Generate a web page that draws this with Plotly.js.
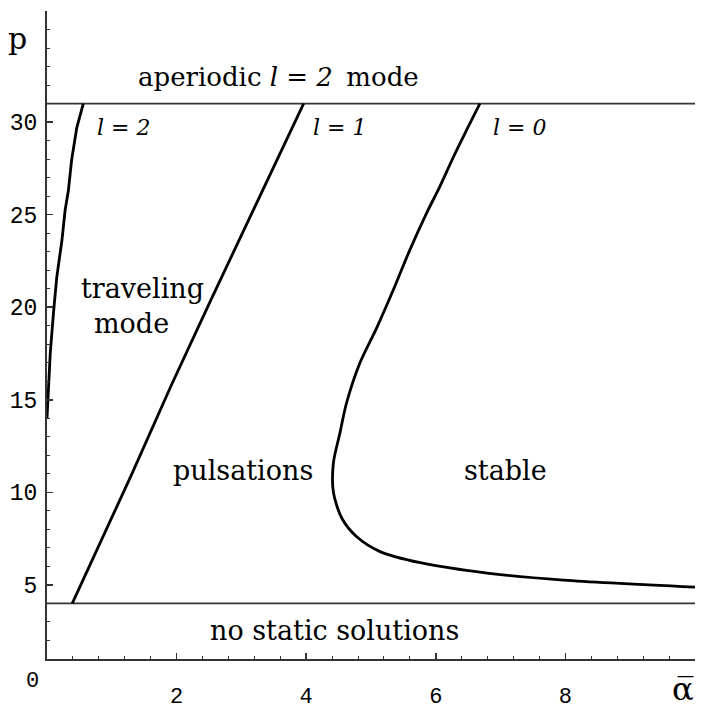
<!DOCTYPE html>
<html>
<head>
<meta charset="utf-8">
<script src="https://cdn.plot.ly/plotly-3.0.1.min.js"></script>
<style>html,body{margin:0;padding:0;background:#fff;}#chart{width:707px;height:709px;}</style>
</head>
<body>
<div id="chart"></div>
<script>
// Boundary curves: alpha-bar (x) vs p (y)
var l2Alpha = [0, 0.02, 0.05, 0.10, 0.15, 0.23, 0.28, 0.33, 0.38, 0.46, 0.56];
var l2P     = [14.0, 15.5, 17.5, 19.7, 21.6, 23.6, 25.25, 26.3, 27.95, 29.7, 31];

var l1Alpha = [0.39, 1.31, 1.92, 2.53, 3.96];
var l1P     = [4, 11.0, 15.8, 20.4, 31];

var l0Alpha = [10, 7.97, 6.79, 5.76, 5.14, 4.78, 4.55, 4.42, 4.42, 4.52, 4.62, 4.83, 5.09, 5.34, 5.60, 5.86, 6.06, 6.27, 6.48, 6.68];
var l0P     = [4.88, 5.26, 5.64, 6.2, 6.8, 7.6, 8.6, 10.0, 11.6, 13.2, 14.8, 17.0, 18.9, 20.9, 23.1, 25.1, 26.5, 28.1, 29.6, 31];

// Horizontal limits
var limitAlpha = [0, 10];
var upperP = [31, 31];
var lowerP = [4, 4];

// Ticks
var xTickVals = [2, 4, 6, 8, 10];
var xTickText = ['2', '4', '6', '8', ''];
var yTickVals = [5, 10, 15, 20, 25, 30];
var yTickText = ['5', '10', '15', '20', '25', '30'];

var curveLine = {color: '#000', width: 2.8};
var limitLine = {color: '#333', width: 1.8};

var traces = [
  {x: limitAlpha, y: upperP, mode: 'lines', line: limitLine, hoverinfo: 'skip'},
  {x: limitAlpha, y: lowerP, mode: 'lines', line: limitLine, hoverinfo: 'skip'},
  {x: l2Alpha, y: l2P, mode: 'lines', line: curveLine},
  {x: l1Alpha, y: l1P, mode: 'lines', line: curveLine},
  {x: l0Alpha, y: l0P, mode: 'lines', line: Object.assign({shape: 'spline', smoothing: 0.8}, curveLine)}
];

var serif = 'DejaVu Serif, serif';
var mono = 'Liberation Mono, monospace';

function ann(x, y, text, size, opts) {
  return Object.assign({x: x, y: y, xref: 'x', yref: 'y', text: text, showarrow: false,
    font: {family: serif, size: size, color: '#000'}}, opts || {});
}
function pann(fx, fy, text, font) {
  return {x: fx, y: fy, xref: 'paper', yref: 'paper', text: text, showarrow: false,
    xanchor: 'center', yanchor: 'middle', font: font};
}

var annotations = [
  ann(3.57, 32.45, 'aperiodic <i>l = 2</i> \u2009mode', 26),
  ann(0.74, 29.7, '<i>l = 2</i>', 22, {xanchor: 'left'}),
  ann(4.07, 29.7, '<i>l = 1</i>', 22, {xanchor: 'left'}),
  ann(6.85, 29.7, '<i>l = 0</i>', 22, {xanchor: 'left'}),
  ann(1.48, 21.0, 'traveling', 27),
  ann(1.31, 19.1, 'mode', 27),
  ann(3.02, 11.2, 'pulsations', 27),
  ann(7.08, 11.2, 'stable', 27),
  ann(4.43, 2.55, 'no static solutions', 27),
  pann(-0.046, 0.957, 'p', {family: serif, size: 30, color: '#000'}),
  pann(0.982, -0.047, '\u03B1\u0305', {family: serif, size: 32, color: '#000'}),
  pann(-0.022, -0.035, '0', {family: mono, size: 22, color: '#000'})
];

var layout = {
  width: 707, height: 709,
  margin: {l: 47, r: 12, t: 11, b: 50},
  paper_bgcolor: '#fff', plot_bgcolor: '#fff',
  showlegend: false,
  xaxis: {
    range: [0, 10], showgrid: false, zeroline: false,
    showline: true, linecolor: '#333', linewidth: 2,
    ticks: 'inside', ticklen: 6, tickwidth: 1.5, tickcolor: '#333',
    tickvals: xTickVals, ticktext: xTickText,
    tickfont: {family: mono, size: 22, color: '#000'},
    ticklabelstandoff: 16,
    minor: {dtick: 0.4, tick0: 0, ticks: 'inside', ticklen: 3, tickwidth: 1, tickcolor: '#333', showgrid: false}
  },
  yaxis: {
    range: [1, 36], showgrid: false, zeroline: false,
    showline: true, linecolor: '#333', linewidth: 2,
    ticks: 'inside', ticklen: 6, tickwidth: 1.5, tickcolor: '#333',
    tickvals: yTickVals, ticktext: yTickText,
    tickfont: {family: mono, size: 23, color: '#000'},
    ticklabelstandoff: 3,
    minor: {dtick: 1, tick0: 0, ticks: 'inside', ticklen: 3, tickwidth: 1, tickcolor: '#333', showgrid: false}
  },
  annotations: annotations
};

Plotly.newPlot('chart', traces, layout, {displayModeBar: false, staticPlot: true});
</script>
</body>
</html>
